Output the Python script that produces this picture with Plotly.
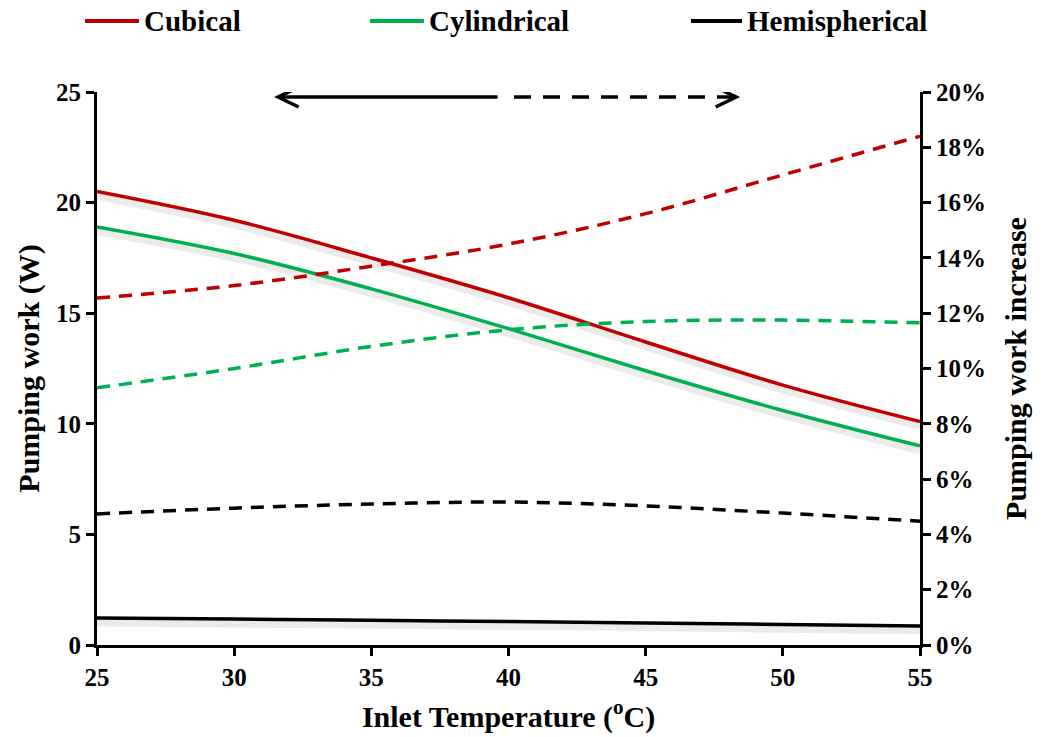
import plotly.graph_objects as go

temps = [25, 30, 35, 40, 45, 50, 55]
work_cubical = [20.5, 19.2, 17.5, 15.7, 13.7, 11.75, 10.1]
work_cylindrical = [18.9, 17.7, 16.1, 14.3, 12.4, 10.6, 9.0]
work_hemispherical = [1.22, 1.17, 1.12, 1.06, 1.0, 0.93, 0.86]
inc_cubical = [0.1255, 0.130, 0.137, 0.145, 0.156, 0.170, 0.184]
inc_cylindrical = [0.093, 0.100, 0.108, 0.114, 0.117, 0.1175, 0.1165]
inc_hemispherical = [0.0474, 0.0495, 0.051, 0.0517, 0.0503, 0.0477, 0.0448]

names = ["Cubical", "Cylindrical", "Hemispherical"]
colors = ["#C00000", "#00B050", "#000000"]
works = [work_cubical, work_cylindrical, work_hemispherical]
incs = [inc_cubical, inc_cylindrical, inc_hemispherical]

FONT = "Times New Roman, Liberation Serif, serif"
fig = go.Figure()

# soft shadows under solid lines
for w in works:
    fig.add_trace(go.Scatter(x=temps, y=[v - 0.22 for v in w], mode="lines",
                             line=dict(color="rgba(0,0,0,0.08)", width=7, shape="spline"),
                             showlegend=False, hoverinfo="skip"))

for n, c, w in zip(names, colors, works):
    fig.add_trace(go.Scatter(x=temps, y=w, mode="lines", name=n, showlegend=False,
                             line=dict(color=c, width=3.5, shape="spline")))

for n, c, i in zip(names, colors, incs):
    fig.add_trace(go.Scatter(x=temps, y=i, mode="lines", name=n + " increase",
                             yaxis="y2", showlegend=False,
                             line=dict(color=c, width=3.5, dash="13px,9px", shape="spline")))

tickfont = dict(family=FONT, size=25, color="black", weight="bold")
titlefont = dict(family=FONT, size=30, color="black", weight="bold")
axis_common = dict(showline=True, linecolor="black", linewidth=3, ticks="outside",
                   tickcolor="black", tickwidth=3, ticklen=8, showgrid=False, zeroline=False,
                   tickfont=tickfont)

fig.update_layout(
    width=1046, height=737,
    paper_bgcolor="white", plot_bgcolor="white",
    margin=dict(l=97, r=126, t=92, b=92, autoexpand=False),
    font=dict(family=FONT, color="black"),
    showlegend=False,
    xaxis=dict(range=[25, 55], dtick=5, **axis_common,
               title=dict(text="Inlet Temperature (<sup>o</sup>C)", standoff=16, font=titlefont)),
    yaxis=dict(range=[0, 25], dtick=5, **axis_common,
               title=dict(text="Pumping work (W)", standoff=8, font=titlefont)),
    yaxis2=dict(range=[0, 0.20], dtick=0.02, tickformat=".0%", overlaying="y", side="right",
                **axis_common,
                title=dict(text="Pumping work increase", standoff=20, font=titlefont)),
)

# manual legend across the top
W = 823.0
H = 553.0
leg_px = [(85, 139), (370, 424), (691, 742)]
leg_y = (645 - 21) / H
for (a, b), n, c in zip(leg_px, names, colors):
    fig.add_shape(type="line", xref="paper", yref="paper",
                  x0=(a - 97) / W, x1=(b - 97) / W, y0=leg_y, y1=leg_y,
                  line=dict(color=c, width=4))
    fig.add_annotation(text=n, xref="paper", yref="paper", x=(b + 3 - 97) / W, y=leg_y,
                       xanchor="left", yanchor="middle", showarrow=False,
                       font=dict(family=FONT, size=29, color="black", weight="bold"))

# direction arrow: solid -> left axis, dashed -> right axis
ya = 24.77
fig.add_shape(type="line", xref="x", yref="y", x0=31.65, x1=39.6, y0=ya, y1=ya,
              line=dict(color="black", width=3.5))
fig.add_shape(type="line", xref="x", yref="y", x0=40.2, x1=48.25, y0=ya, y1=ya,
              line=dict(color="black", width=3.5, dash="17px,12px"))
fig.add_shape(type="path", xref="x", yref="y",
              path=f"M 32.35,{ya+0.45} L 31.6,{ya} L 32.35,{ya-0.45}",
              line=dict(color="black", width=3.5))
fig.add_shape(type="path", xref="x", yref="y",
              path=f"M 47.55,{ya+0.45} L 48.3,{ya} L 47.55,{ya-0.45}",
              line=dict(color="black", width=3.5))

fig.write_html("out.html")
